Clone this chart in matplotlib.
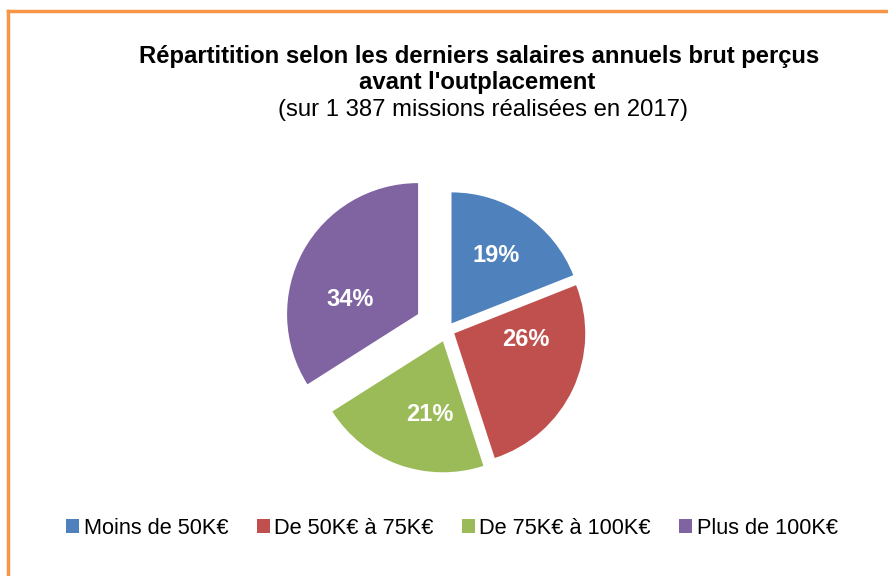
import matplotlib
matplotlib.use("Agg")
import numpy as np
from matplotlib import pyplot as plt
from matplotlib.lines import Line2D
from matplotlib.patches import Patch

plt.rcParams['font.family'] = ['Liberation Sans', 'DejaVu Sans']

# data
categories = ["Moins de 50K€", "De 50K€ à 75K€", "De 75K€ à 100K€", "Plus de 100K€"]
shares = [19, 26, 21, 34]
colors = ["#4F81BD", "#C0504D", "#9BBB59", "#8064A2"]
explode_px = [8, 8, 12, 33]

# label placement (angle in degrees, distance as fraction of radius), Excel "best fit"
label_angle = [56.6, -4.5, -99.9, 167.5]
label_dist = [0.62, 0.55, 0.57, 0.53]

W, H = 888, 576
R = 131
fig = plt.figure(figsize=(W / 100, H / 100), dpi=100)
fig.patch.set_facecolor("white")

# axes in pixel units (y measured upward)
ax = fig.add_axes([0, 0, 1, 1])

wedges, texts, autotexts = ax.pie(
    shares, colors=colors, explode=explode_px, startangle=90,
    counterclock=False, radius=R, center=(447, H - 330),
    autopct="%d%%", frame=True,
    textprops=dict(color="white", fontsize=17, fontweight="bold"),
)
for w, t, a, d in zip(wedges, autotexts, label_angle, label_dist):
    cx, cy = w.center
    t.set_position((cx + R * d * np.cos(np.radians(a)), cy + R * d * np.sin(np.radians(a))))

ax.set_xlim(0, W)
ax.set_ylim(0, H)
ax.set_aspect("equal")
ax.axis("off")

# orange frame (top and left edges visible)
fig.add_artist(Line2D([8 / W, 1], [1 - 11 / H, 1 - 11 / H], color="#F79646", lw=2.5,
                      transform=fig.transFigure))
fig.add_artist(Line2D([8 / W, 8 / W], [0, 1 - 11 / H], color="#F79646", lw=2.5,
                      transform=fig.transFigure))

fig.text(479 / W, 1 - 57 / H, "Répartitition selon les derniers salaires annuels brut perçus",
         ha="center", va="center", fontsize=17.2, fontweight="bold")
fig.text(477 / W, 1 - 83 / H, "avant l'outplacement",
         ha="center", va="center", fontsize=17.2, fontweight="bold")
fig.text(483 / W, 1 - 110 / H, "(sur 1 387 missions réalisées en 2017)",
         ha="center", va="center", fontsize=17.2)

handles = [Patch(facecolor=c, edgecolor="none") for c in colors]
fig.legend(handles, categories, loc="center", bbox_to_anchor=(452 / W, 1 - 528 / H),
           ncol=4, frameon=False, fontsize=15.7, handlelength=0.6, handleheight=0.6,
           handletextpad=0.2, columnspacing=1.3)

fig.savefig("out.png", dpi=100)
